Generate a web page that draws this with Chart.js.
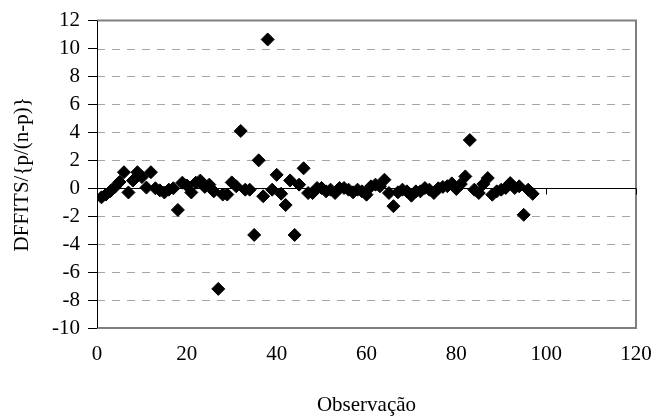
<!DOCTYPE html>
<html>
<head>
<meta charset="utf-8">
<script src="https://cdn.jsdelivr.net/npm/chart.js@4/dist/chart.umd.min.js"></script>
<style>
  body { margin: 0; background: #fff; }
</style>
</head>
<body>
<canvas id="graficoDffits" width="656" height="419"></canvas>
<script>
// * Observações (eixo x) e valores de DFFITS/{p/(n-p)}
var observacoes = [1, 2, 3, 4, 5, 6, 7, 8, 9, 10, 11, 12, 13, 14, 15, 16, 17, 18, 19, 20,
    21, 22, 23, 24, 25, 26, 27, 28, 29, 30, 31, 32, 33, 34, 35, 36, 37, 38, 39, 40,
    41, 42, 43, 44, 45, 46, 47, 48, 49, 50, 51, 52, 53, 54, 55, 56, 57, 58, 59, 60,
    61, 62, 63, 64, 65, 66, 67, 68, 69, 70, 71, 72, 73, 74, 75, 76, 77, 78, 79, 80,
    81, 82, 83, 84, 85, 86, 87, 88, 89, 90, 91, 92, 93, 94, 95, 96, 97];

var dffits = [-0.65, -0.45, -0.2, 0.1, 0.45, 1.15, -0.3, 0.55, 1.15, 0.8,
    0.05, 1.15, 0.0, -0.15, -0.3, -0.1, 0.0, -1.55, 0.4, 0.2,
    -0.3, 0.4, 0.55, 0.1, 0.26, -0.22, -7.2, -0.45, -0.45, 0.42,
    0.14, 4.1, -0.1, -0.1, -3.34, 2.0, -0.57, 10.65, -0.1, 0.96,
    -0.39, -1.2, 0.56, -3.34, 0.26, 1.43, -0.34, -0.34, 0.02, 0.02,
    -0.22, -0.1, -0.34, 0.02, 0.02, -0.1, -0.29, -0.1, -0.22, -0.46,
    0.14, 0.26, 0.14, 0.61, -0.34, -1.28, -0.29, -0.1, -0.22, -0.53,
    -0.22, -0.22, 0.02, -0.1, -0.34, 0.0, 0.1, 0.15, 0.35, -0.05,
    0.3, 0.85, 3.45, -0.1, -0.34, 0.3, 0.73, -0.46, -0.22, -0.1,
    0.02, 0.37, 0.02, 0.14, -1.9, -0.1, -0.4];

var tituloX = "Observação";
var tituloY = "DFFITS/{p/(n-p)}";

var fonte = { family: "'Liberation Serif', 'Times New Roman', serif", size: 21 };

var pontos = [];
for (var i = 0; i < observacoes.length; i++) {
    pontos.push({ x: observacoes[i], y: dffits[i] });
}

// * Desenha grade tracejada, moldura e a linha do zero (estilo Excel)
var moldura = {
    id: 'moldura',
    beforeDatasetsDraw: function (chart) {
        var ctx = chart.ctx;
        var a = chart.chartArea;
        var x = chart.scales.x;
        var y = chart.scales.y;
        ctx.save();

        ctx.strokeStyle = '#a6a6a6';
        ctx.lineWidth = 1;
        ctx.setLineDash([8, 7]);
        y.ticks.forEach(function (t) {
            if (t.value === 0 || t.value === y.max || t.value === y.min) return;
            var py = Math.round(y.getPixelForValue(t.value)) + 0.5;
            ctx.beginPath();
            ctx.moveTo(a.left, py);
            ctx.lineTo(a.right, py);
            ctx.stroke();
        });
        ctx.setLineDash([]);

        ctx.strokeStyle = '#808080';
        ctx.lineWidth = 2;
        ctx.beginPath();
        ctx.moveTo(a.left, a.top);
        ctx.lineTo(a.right, a.top);
        ctx.lineTo(a.right, a.bottom);
        ctx.lineTo(a.left, a.bottom);
        ctx.stroke();

        ctx.strokeStyle = '#000';
        ctx.lineWidth = 1;
        var xl = Math.round(a.left) + 0.5;
        ctx.beginPath();
        ctx.moveTo(xl, a.top);
        ctx.lineTo(xl, a.bottom);
        ctx.stroke();

        var y0 = Math.round(y.getPixelForValue(0)) + 0.5;
        ctx.beginPath();
        ctx.moveTo(a.left, y0);
        ctx.lineTo(a.right, y0);
        ctx.stroke();
        x.ticks.forEach(function (t) {
            var px = Math.round(x.getPixelForValue(t.value)) + 0.5;
            ctx.beginPath();
            ctx.moveTo(px, y0);
            ctx.lineTo(px, y0 + 6);
            ctx.stroke();
        });
        ctx.restore();
    }
};

var ctx = document.getElementById("graficoDffits").getContext("2d");
var grafico = new Chart(ctx, {
    type: "scatter",
    data: {
        datasets: [{
            data: pontos,
            pointStyle: 'rectRot',
            pointRadius: 6.5,
            backgroundColor: '#000',
            borderColor: '#000',
            borderWidth: 1
        }]
    },
    options: {
        responsive: false,
        animation: false,
        layout: { padding: { top: 17, right: 20, left: 0, bottom: 0 } },
        plugins: {
            legend: { display: false },
            tooltip: { enabled: false }
        },
        scales: {
            x: {
                type: 'linear',
                min: 0,
                max: 120,
                ticks: { stepSize: 20, color: '#000', font: fonte, padding: 14, maxRotation: 0, autoSkip: false },
                grid: { display: false, drawTicks: false },
                border: { display: false },
                title: { display: true, text: tituloX, color: '#000', font: fonte, padding: { top: 0, bottom: 1 } },
                afterFit: function (scale) {
                    scale.height = 91;
                    // > o rótulo "120" pode sair da área, como no original
                    scale.paddingRight = 0;
                    scale.paddingLeft = 0;
                }
            },
            y: {
                type: 'linear',
                min: -10,
                max: 12,
                ticks: { stepSize: 2, color: '#000', font: fonte, padding: 8, autoSkip: false },
                grid: { display: true, drawOnChartArea: false, drawTicks: true, tickLength: 9, tickColor: '#000' },
                border: { display: false },
                title: { display: true, text: tituloY, color: '#000', font: fonte, padding: { top: 10, bottom: 0 } },
                afterFit: function (scale) { scale.width = 97; }
            }
        }
    },
    plugins: [moldura]
});
</script>
</body>
</html>
